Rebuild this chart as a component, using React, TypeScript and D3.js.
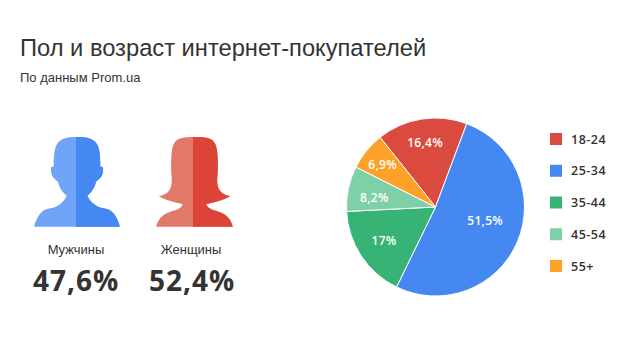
import React from "react";
import * as d3 from "d3";

const ageLabels = ["18-24", "25-34", "35-44", "45-54", "55+"];
const ageValues = [16.4, 51.5, 17, 8.2, 6.9];
const ageText = ["16,4%", "51,5%", "17%", "8,2%", "6,9%"];
const ageColors = ["#db4a3f", "#4688f1", "#38b376", "#7fcfa8", "#fea128"];
const labelNudge = [[-1, -5], [-6, -10], [-1, 0], [-2, 2.5], [-6, -4]];
const genderLabels = ["Мужчины", "Женщины"];
const genderText = ["47,6%", "52,4%"];

const W = 640, H = 356;
const cx = 435.5, cy = 207, R = 89;
const startAngle = (-38.5 * Math.PI) / 180;

const manHalf = "M-2 36 L0 36 C24 35 40 38 52 48 C66 60 70 80 70 125 L76 125 C79 128 79 135 77 145 C74 158 64 165 57 170 C53 188 45 200 31 212 C39 228 51 243 79 250 C101 252 117 265 129 305 L-2 305 Z";
const womanHalf = "M-2 36 L0 36 C22 35 42 36 54 46 C67 58 70 78 70 125 C71 150 62 178 77 198 C85 208 96 212 107 213 C92 224 66 230 35 238 C40 252 58 256 72 260 C96 268 108 280 115 305 L-2 305 Z";

function Silhouette({ id, x, split, y, d, left, right }: { id: string; x: number; split: number; y: number; d: string; left: string; right: string }) {
  const body = (fill: string) => (
    <g transform={`translate(${x},${y}) scale(${1 / 3})`}>
      <path d={d} fill={fill} transform="scale(-1,1)" />
      <path d={d} fill={fill} />
    </g>
  );
  return (
    <g>
      <clipPath id={id}>
        <rect x={split} y={y} width={100} height={120} />
      </clipPath>
      {body(left)}
      <g clipPath={`url(#${id})`}>{body(right)}</g>
    </g>
  );
}

export default function App() {
  const pie = d3.pie<number>().sort(null).startAngle(startAngle).endAngle(startAngle + 2 * Math.PI);
  const arcs = pie(ageValues);
  const arc = d3.arc<d3.PieArcDatum<number>>().innerRadius(0).outerRadius(R);
  const labelArc = d3.arc<d3.PieArcDatum<number>>().innerRadius(R * 0.68).outerRadius(R * 0.68);
  const legendY = d3.scalePoint<string>().domain(ageLabels).range([139, 266]);
  const numFont = "'Open Sans', sans-serif";
  const textFont = "'Liberation Sans', Arial, sans-serif";

  return (
    <svg
      width={W}
      height={H}
      viewBox={`0 0 ${W} ${H}`}
      style={{ position: "absolute", left: 0, top: 0, background: "#fff" }}
    >
      <text x={20} y={56} fontFamily={textFont} fontSize={23.7} fill="#333">
        Пол и возраст интернет-покупателей
      </text>
      <text x={20} y={82} fontFamily={textFont} fontSize={13} fill="#333">
        По данным Prom.ua
      </text>

      <Silhouette id="man" x={77} split={76} y={125} d={manHalf} left="#70a4f9" right="#4688f1" />
      <Silhouette id="woman" x={194.5} split={193} y={125} d={womanHalf} left="#e27868" right="#db4437" />

      {genderLabels.map((g, i) => (
        <text key={g} x={[76, 191][i]} y={254} textAnchor="middle" fontFamily={textFont} fontSize={13} fill="#333">
          {g}
        </text>
      ))}
      {genderText.map((g, i) => (
        <text key={g} x={[76, 192][i]} y={291} textAnchor="middle" fontFamily={numFont} fontWeight={700} fontSize={28} letterSpacing={1} fill="#333">
          {g}
        </text>
      ))}

      <g transform={`translate(${cx},${cy})`}>
        {arcs.map((a, i) => (
          <path key={ageLabels[i]} d={arc(a)!} fill={ageColors[i]} stroke="#fff" strokeWidth={1} />
        ))}
        {arcs.map((a, i) => {
          const [lx, ly] = labelArc.centroid(a);
          return (
            <text key={ageText[i]} x={lx + labelNudge[i][0]} y={ly + labelNudge[i][1] + 4.5} textAnchor="middle" fontFamily={numFont} fontWeight={600} fontSize={12} letterSpacing={0.3} fill="#fff">
              {ageText[i]}
            </text>
          );
        })}
      </g>

      {ageLabels.map((l, i) => {
        const y = legendY(l)!;
        return (
          <g key={l}>
            <rect x={550} y={y - 6} width={12} height={12} fill={ageColors[i]} />
            <text x={571} y={y + 4.5} fontFamily={numFont} fontWeight={600} fontSize={12.5} letterSpacing={0.5} fill="#333">
              {l}
            </text>
          </g>
        );
      })}
    </svg>
  );
}
